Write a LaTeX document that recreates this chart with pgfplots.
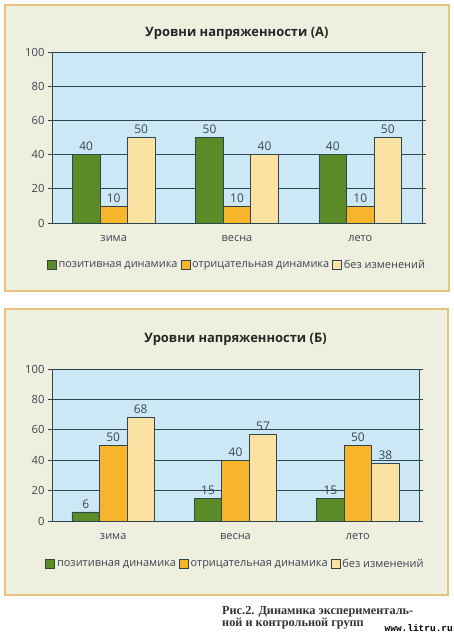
\documentclass[border=0pt]{standalone}
\usepackage{fontspec}
\setmainfont{Open Sans}
\newfontfamily\capfont{Liberation Serif}
\newfontfamily\wmfont{Liberation Mono}
\usepackage{pgfplots}
\pgfplotsset{compat=1.18}
\definecolor{boxbg}{HTML}{EFEFE0}
\definecolor{boxborder}{HTML}{E6C47E}
\definecolor{plotbg}{HTML}{CCE8F6}
\definecolor{gridc}{HTML}{2E4650}
\definecolor{cgreen}{HTML}{5B8A26}
\definecolor{corange}{HTML}{F7B52C}
\definecolor{cyellow}{HTML}{FCE2A2}
\definecolor{txt}{HTML}{3A4650}
\pgfplotsset{
 chart/.style={
  scale only axis,
  /pgf/number format/assume math mode=true,
  ybar=0pt, bar width=27.5bp,
  ymin=0, ymax=100, ytick={0,20,...,100},
  xmin=-0.5, xmax=2.5, xtick={0,1,2},
  xticklabels={зима,весна,лето},
  axis background/.style={fill=plotbg},
  axis line style={gridc, line width=0.8bp},
  ymajorgrids, grid style={gridc, line width=0.8bp},
  major tick length=4bp,
  ytick style={gridc, line width=0.8bp},
  xtick style={draw=none},
  tick align=outside,
  yticklabel style={font=\fontsize{11.3}{12}\selectfont, text=txt},
  xticklabel style={font=\fontsize{11}{12}\selectfont, text=txt, yshift=-5bp},
  nodes near coords,
  nodes near coords style={font=\fontsize{12}{12}\selectfont, text=txt},
  every axis plot/.append style={draw=gridc, line width=0.6bp},
  legend columns=3,
  legend style={draw=none, fill=none, font=\fontsize{11}{12}\selectfont, text=txt,
    /tikz/every even column/.append style={column sep=1bp}},
  legend image code/.code={\draw[#1, draw=gridc, line width=0.6bp] (0bp,-4.5bp) rectangle (9bp,4.5bp);},
  title style={font=\bfseries\fontsize{13}{14}\selectfont, text=black!85},
 }
}
\begin{document}
\begin{tikzpicture}
\fill[white] (0,0) rectangle (454bp,-634bp);
\draw[boxborder, fill=boxbg, line width=1.2bp] (5bp,-5bp) rectangle (449bp,-291bp);
\draw[boxborder, fill=boxbg, line width=1.2bp] (5bp,-309bp) rectangle (448bp,-595bp);

\begin{axis}[chart, at={(52bp,-223bp)}, anchor=south west,
  width=370bp, height=171bp,
  title={Уровни напряженности (А)}, title style={at={(0.5,1)}, yshift=3bp},
  legend style={at={(0.5,-0.245)}, anchor=center}]
\addplot[fill=cgreen] coordinates {(0,40) (1,50) (2,40)};
\addplot[fill=corange] coordinates {(0,10) (1,10) (2,10)};
\addplot[fill=cyellow] coordinates {(0,50) (1,40) (2,50)};
\legend{позитивная динамика, отрицательная динамика, без изменений}
\end{axis}

\begin{axis}[chart, at={(52bp,-521bp)}, anchor=south west,
  width=367bp, height=152bp,
  title={Уровни напряженности (Б)}, title style={at={(0.5,1)}, yshift=14bp},
  legend style={at={(0.5,-0.283)}, anchor=center}]
\addplot[fill=cgreen] coordinates {(0,6) (1,15) (2,15)};
\addplot[fill=corange] coordinates {(0,50) (1,40) (2,50)};
\addplot[fill=cyellow] coordinates {(0,68) (1,57) (2,38)};
\legend{позитивная динамика, отрицательная динамика, без изменений}
\end{axis}

\node[anchor=north west, align=left, inner sep=0pt, font=\capfont\bfseries\fontsize{12.3}{11}\selectfont, text=black!80]
  at (222bp,-606bp) {Рис.2. Динамика эксперименталь-\\ной и контрольной групп};
\node[anchor=east, inner sep=0pt, font=\wmfont\bfseries\fontsize{9.5}{10}\selectfont]
  at (453bp,-628bp) {www.litru.ru};
\end{tikzpicture}
\end{document}
